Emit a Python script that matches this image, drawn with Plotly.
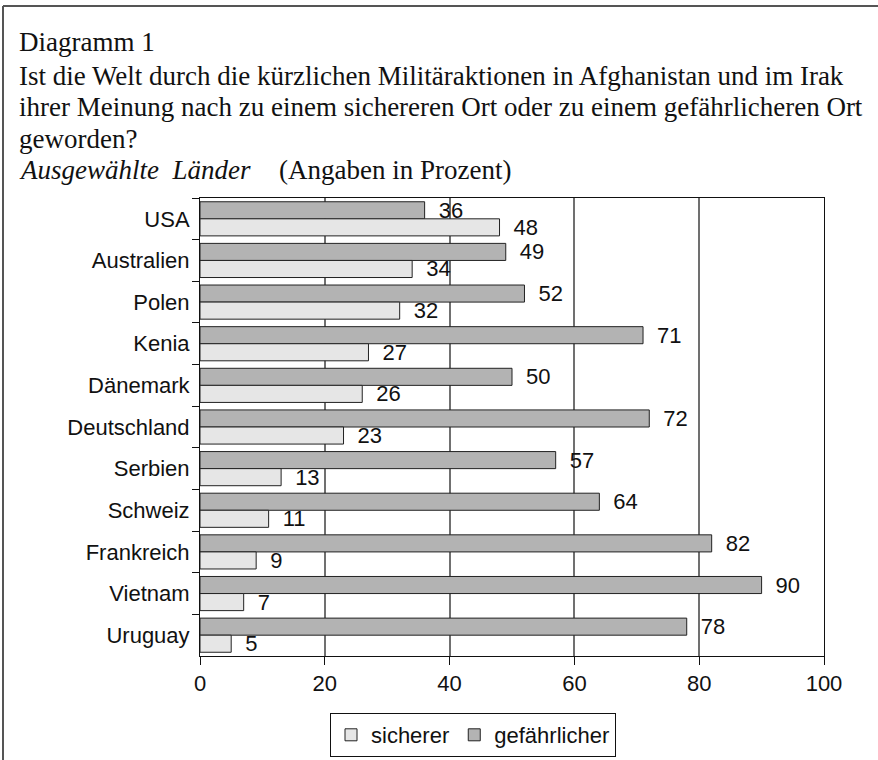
import plotly.graph_objects as go

countries = ["USA", "Australien", "Polen", "Kenia", "Dänemark", "Deutschland",
             "Serbien", "Schweiz", "Frankreich", "Vietnam", "Uruguay"]
sicherer = [48, 34, 32, 27, 26, 23, 13, 11, 9, 7, 5]
gefaehrlicher = [36, 49, 52, 71, 50, 72, 57, 64, 82, 90, 78]
x_ticks = [0, 20, 40, 60, 80, 100]
title_lines = [
    "Diagramm 1",
    "Ist die Welt durch die kürzlichen Militäraktionen in Afghanistan und im Irak",
    "ihrer Meinung nach zu einem sichereren Ort oder zu einem gefährlicheren Ort",
    "geworden?",
    "<i>Ausgewählte  Länder</i>",
]
note = "(Angaben in Prozent)"

W, H = 878, 760
L, R, T, B = 200, 824, 198, 656

def px(x):
    return (x - L) / (R - L)

def py(y):
    return (B - y) / (B - T)

sans = "Liberation Sans, Arial, sans-serif"
serif = "Liberation Serif, Times New Roman, serif"
pad = "\u2002"

fig = go.Figure()
fig.add_trace(go.Bar(
    y=countries, x=gefaehrlicher, orientation="h", name="gefährlicher",
    marker=dict(color="#b3b3b3", line=dict(color="#222222", width=1)),
    text=[pad + str(v) for v in gefaehrlicher], textposition="outside",
    constraintext="none", cliponaxis=False,
    textfont=dict(family=sans, size=22, color="#111111"), legendrank=2,
))
fig.add_trace(go.Bar(
    y=countries, x=sicherer, orientation="h", name="sicherer",
    marker=dict(color="#e6e6e6", line=dict(color="#222222", width=1)),
    text=[pad + str(v) for v in sicherer], textposition="outside",
    constraintext="none", cliponaxis=False,
    textfont=dict(family=sans, size=22, color="#111111"), legendrank=1,
))

fig.update_layout(
    width=W, height=H,
    margin=dict(l=L, r=W - R, t=T, b=H - B, autoexpand=False),
    paper_bgcolor="white", plot_bgcolor="white",
    barmode="group", bargap=0.18, bargroupgap=0,
    font=dict(family=sans, size=22, color="#111111"),
    showlegend=True,
    legend=dict(orientation="h", x=px(330), y=py(713), xanchor="left", yanchor="top",
                bordercolor="#111111", borderwidth=1, font=dict(family=sans, size=22),
                bgcolor="white", itemwidth=30, tracegroupgap=0),
    xaxis=dict(range=[0, 100], tickvals=x_ticks, ticks="outside", ticklen=8,
               tickcolor="#111111", showline=True, linecolor="#111111", linewidth=1,
               mirror=True, showgrid=True, gridcolor="#707070", gridwidth=1.5,
               zeroline=False, tickfont=dict(family=sans, size=22),
               ticklabelstandoff=0),
    yaxis=dict(autorange="reversed", categoryorder="array", categoryarray=countries,
               ticks="outside", tickson="boundaries", ticklen=7, tickcolor="#111111",
               showline=True, linecolor="#111111", linewidth=1, mirror=True,
               showgrid=False, tickfont=dict(family=sans, size=22),
               ticklabelstandoff=5),
)

centers = [42, 76, 107, 139, 170]
for txt, cy in zip(title_lines, centers):
    fig.add_annotation(
        xref="paper", yref="paper", x=px(17), y=py(cy), xanchor="left", yanchor="middle",
        showarrow=False, font=dict(family=serif, size=27, color="#111111"), text=txt,
    )
fig.add_annotation(
    xref="paper", yref="paper", x=px(277), y=py(centers[-1]), xanchor="left", yanchor="middle",
    showarrow=False, font=dict(family=serif, size=27, color="#111111"), text=note,
)

# outer frame (top and left edges)
fig.add_shape(type="line", xref="paper", yref="paper", x0=px(3), x1=px(878),
              y0=py(6), y1=py(6), line=dict(color="#555555", width=2))
fig.add_shape(type="line", xref="paper", yref="paper", x0=px(3), x1=px(3),
              y0=py(6), y1=py(760), line=dict(color="#555555", width=2))

fig.write_html("out.html", config={"displayModeBar": False},
               post_script="document.body.style.margin='0';")
